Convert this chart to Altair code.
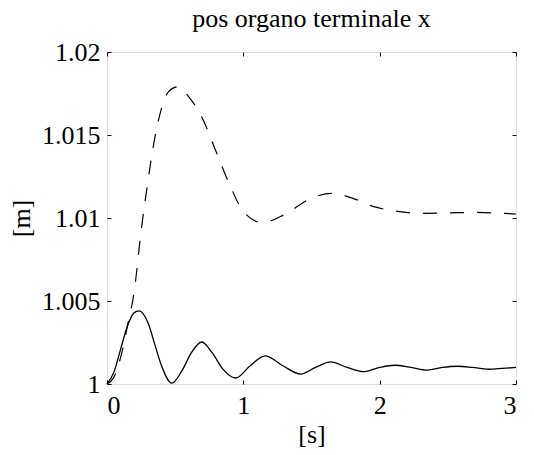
import altair as alt
import pandas as pd

# dashed series (t [s], x [m])
t_dash = [0, 0.05, 0.1, 0.15, 0.2, 0.25, 0.3, 0.35, 0.4, 0.45, 0.52, 0.6, 0.7, 0.8, 0.9, 1.0,
          1.14, 1.3, 1.5, 1.65, 1.8, 1.95, 2.1, 2.3, 2.5, 2.7, 2.9, 3.0]
x_dash = [1.0, 1.0004, 1.0016, 1.0035, 1.0056, 1.0092, 1.0122, 1.0148, 1.0166, 1.0176, 1.0179,
          1.0173, 1.0160, 1.0140, 1.0120, 1.0104, 1.00972, 1.0102, 1.0112, 1.01148, 1.0112,
          1.0107, 1.01044, 1.01028, 1.0103, 1.01034, 1.01028, 1.01024]

# solid series
t_solid = [0, 0.05, 0.1, 0.15, 0.2, 0.235, 0.3, 0.35, 0.4, 0.475, 0.55, 0.62, 0.695, 0.77, 0.85,
           0.944, 1.05, 1.16, 1.29, 1.42, 1.53, 1.64, 1.76, 1.88, 2.0, 2.11, 2.23, 2.35, 2.46,
           2.57, 2.68, 2.8, 2.9, 3.0]
x_solid = [1.0, 1.0007, 1.0021, 1.0035, 1.0043, 1.0044, 1.0037, 1.0024, 1.0011, 1.00005, 1.0008,
           1.0019, 1.00253, 1.0019, 1.0009, 1.00036, 1.0011, 1.0017, 1.0011, 1.0006, 1.0010,
           1.00133, 1.0010, 1.00074, 1.0010, 1.00113, 1.0010, 1.00084, 1.0010, 1.00107, 1.0010,
           1.00089, 1.00094, 1.0010]

x_ticks = [0, 1, 2, 3]
y_ticks = [1.0, 1.005, 1.01, 1.015, 1.02]

df_dash = pd.DataFrame({"t": t_dash, "x": x_dash})
df_solid = pd.DataFrame({"t": t_solid, "x": x_solid})

FONT = "Liberation Serif"
FS = 26
TICK = 4

xscale = alt.Scale(domain=[0, 3], nice=False, zero=False)
yscale = alt.Scale(domain=[1.0, 1.02], nice=False, zero=False)

dashed = alt.Chart(df_dash).mark_line(
    color="black", strokeWidth=1.2, strokeDash=[14, 13], interpolate="monotone"
).encode(
    x=alt.X("t:Q", scale=xscale, axis=alt.Axis(
        orient="bottom", values=x_ticks, title="[s]", domain=False, grid=False,
        tickSize=TICK, offset=-TICK, tickColor="black", labelPadding=8,
        labelFont=FONT, labelFontSize=FS, labelColor="black",
        titleFont=FONT, titleFontSize=FS, titleFontWeight="normal", titleColor="black",
        titlePadding=3)),
    y=alt.Y("x:Q", scale=yscale, axis=alt.Axis(
        orient="left", values=y_ticks, title="[m]", domain=False, grid=False,
        tickSize=TICK, offset=-TICK, tickColor="black", labelPadding=7,
        labelExpr="format(datum.value, '.3~f')",
        labelFont=FONT, labelFontSize=FS, labelColor="black",
        titleFont=FONT, titleFontSize=FS, titleFontWeight="normal", titleColor="black",
        titlePadding=7)),
)

solid = alt.Chart(df_solid).mark_line(
    color="black", strokeWidth=1.3, interpolate="monotone"
).encode(
    x=alt.X("t:Q", scale=xscale, axis=alt.Axis(
        orient="top", values=x_ticks, title=None, labels=False, domain=False, grid=False,
        tickSize=TICK, offset=-TICK, tickColor="black", minExtent=0, maxExtent=0)),
    y=alt.Y("x:Q", scale=yscale, axis=alt.Axis(
        orient="right", values=y_ticks, title=None, labels=False, domain=False, grid=False,
        tickSize=TICK, offset=-TICK, tickColor="black", minExtent=0, maxExtent=0)),
)

chart = alt.layer(dashed, solid).resolve_axis(x="independent", y="independent").properties(
    width=409, height=332,
    padding={"left": 99, "top": 44, "right": 10, "bottom": 63},
    autosize=alt.AutoSizeParams(type="none"),
    title=alt.TitleParams("pos organo terminale x", font=FONT, fontSize=FS,
                          fontWeight="normal", color="black", frame="group",
                          anchor="middle", baseline="alphabetic", offset=-14),
).configure_view(stroke="black", strokeWidth=1).configure(background="white")

chart.save("out.html", embed_options={"renderer": "svg", "actions": False})
